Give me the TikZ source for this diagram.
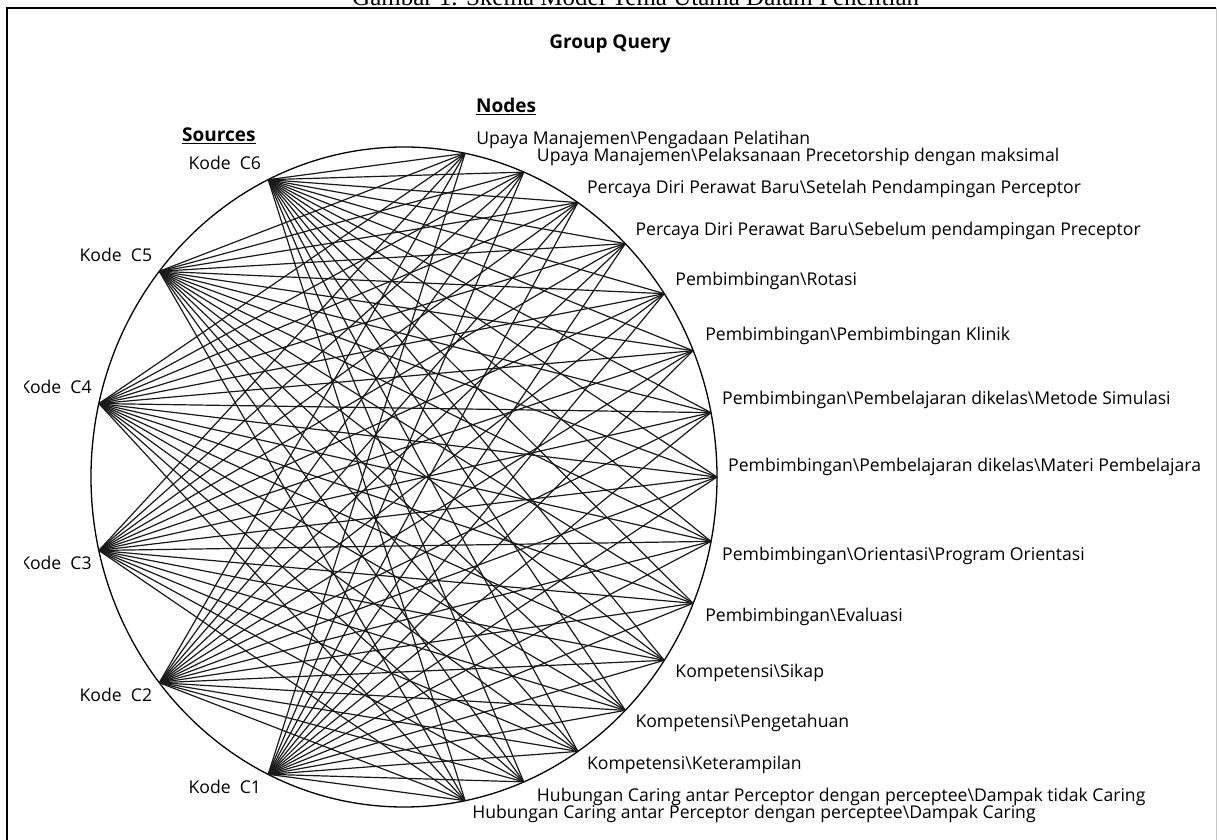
\documentclass[tikz,border=0pt]{standalone}
\usepackage{fontspec}
\setmainfont{Liberation Serif}
\setsansfont{Open Sans}
\usetikzlibrary{positioning}

\begin{document}
\begin{tikzpicture}[
    x=1pt, y=1pt,
    nodetext/.style={font=\sffamily\fontsize{17.6}{20}\selectfont, inner sep=0pt, text height=12.4pt, text depth=4.2pt},
    srctext/.style={font=\sffamily\fontsize{17.6}{20}\selectfont, inner sep=0pt, text height=12.4pt, text depth=4.2pt},
    head/.style={font=\sffamily\bfseries\fontsize{19}{22}\selectfont, inner sep=0pt},
    link/.style={line width=1.2pt, black!90},
    ring/.style={line width=1.3pt, black}
]
\useasboundingbox (0,0) rectangle (1220,839);

% Caption and frame
\node[anchor=base west, font=\fontsize{25}{28}\selectfont, inner sep=0pt] (caption) at (352,833) {Gambar 1. Skema Model Tema Utama Dalam Penelitian};
\draw[line width=1.5pt] (7,-10) -- (7,831) -- (1216,831);
\draw[gray!40] (1216,831) -- (1216,-10);

% Headings
\node[head, anchor=base] (query) at (610,790) {Group Query};
\node[head, anchor=base west] (nodeshead) at (476,726) {\underline{Nodes}};
\node[head, anchor=base west] (sourceshead) at (182,697) {\underline{Sources}};

% Ring
\draw[ring] (404,362) ellipse [x radius=313, y radius=330];

\begin{scope}[shift={(404,362)}]
% Sources
\coordinate (c6) at (115.71:313 and 330);
\coordinate (c5) at (141.43:313 and 330);
\coordinate (c4) at (167.14:313 and 330);
\coordinate (c3) at (192.86:313 and 330);
\coordinate (c2) at (218.57:313 and 330);
\coordinate (c1) at (244.29:313 and 330);
% Nodes
\coordinate (n1) at (78.75:313 and 330);
\coordinate (n2) at (67.5:313 and 330);
\coordinate (n3) at (56.25:313 and 330);
\coordinate (n4) at (45:313 and 330);
\coordinate (n5) at (33.75:313 and 330);
\coordinate (n6) at (22.5:313 and 330);
\coordinate (n7) at (11.25:313 and 330);
\coordinate (n8) at (0:313 and 330);
\coordinate (n9) at (-11.25:313 and 330);
\coordinate (n10) at (-22.5:313 and 330);
\coordinate (n11) at (-33.75:313 and 330);
\coordinate (n12) at (-45:313 and 330);
\coordinate (n13) at (-56.25:313 and 330);
\coordinate (n14) at (-67.5:313 and 330);
\coordinate (n15) at (-78.75:313 and 330);
\end{scope}

% Links
\path[link] (c6) edge (n1) edge (n2) edge (n3) edge (n4) edge (n5) edge (n6) edge (n7) edge (n8) edge (n9) edge (n10) edge (n11) edge (n12) edge (n13) edge (n14) edge (n15);
\path[link] (c5) edge (n1) edge (n2) edge (n3) edge (n4) edge (n5) edge (n6) edge (n7) edge (n8) edge (n9) edge (n10) edge (n11) edge (n12) edge (n13) edge (n14) edge (n15);
\path[link] (c4) edge (n1) edge (n2) edge (n3) edge (n4) edge (n5) edge (n6) edge (n7) edge (n8) edge (n9) edge (n10) edge (n11) edge (n12) edge (n13) edge (n14) edge (n15);
\path[link] (c3) edge (n1) edge (n2) edge (n3) edge (n4) edge (n5) edge (n6) edge (n7) edge (n8) edge (n9) edge (n10) edge (n11) edge (n12) edge (n13) edge (n14) edge (n15);
\path[link] (c2) edge (n1) edge (n2) edge (n3) edge (n4) edge (n5) edge (n6) edge (n7) edge (n8) edge (n9) edge (n10) edge (n11) edge (n12) edge (n13) edge (n14) edge (n15);
\path[link] (c1) edge (n1) edge (n2) edge (n3) edge (n4) edge (n5) edge (n6) edge (n7) edge (n8) edge (n9) edge (n10) edge (n11) edge (n12) edge (n13) edge (n14) edge (n15);

% Source labels
\begin{scope}
\clip (24,0) rectangle (1220,839);
\node[srctext, left=7pt of c6, yshift=14pt] (k6) {Kode~ C6};
\node[srctext, left=7pt of c5, yshift=14pt] (k5) {Kode~ C5};
\node[srctext, left=7pt of c4, yshift=14pt] (k4) {Kode~ C4};
\node[srctext, left=7pt of c3, yshift=-15pt] (k3) {Kode~ C3};
\node[srctext, left=7pt of c2, yshift=-15pt] (k2) {Kode~ C2};
\node[srctext, left=7pt of c1, yshift=-15pt] (k1) {Kode~ C1};
\end{scope}

% Node labels
\node[nodetext, right=11pt of n1, yshift=13pt] (t1) {Upaya Manajemen\textbackslash Pengadaan Pelatihan};
\node[nodetext, right=13pt of n2, yshift=15pt] (t2) {Upaya Manajemen\textbackslash Pelaksanaan Precetorship dengan maksimal};
\node[nodetext, right=9pt of n3, yshift=13pt] (t3) {Percaya Diri Perawat Baru\textbackslash Setelah Pendampingan Perceptor};
\node[nodetext, right=10pt of n4, yshift=12pt] (t4) {Percaya Diri Perawat Baru\textbackslash Sebelum pendampingan Preceptor};
\node[nodetext, right=11pt of n5, yshift=12pt] (t5) {Pembimbingan\textbackslash Rotasi};
\node[nodetext, right=12pt of n6, yshift=14pt] (t6) {Pembimbingan\textbackslash Pembimbingan Klinik};
\node[nodetext, right=11pt of n7, yshift=12pt] (t7) {Pembimbingan\textbackslash Pembelajaran dikelas\textbackslash Metode Simulasi};
\node[nodetext, right=11pt of n8, yshift=10pt] (t8) {Pembimbingan\textbackslash Pembelajaran dikelas\textbackslash Materi Pembelajara};
\node[nodetext, right=11pt of n9, yshift=-15pt] (t9) {Pembimbingan\textbackslash Orientasi\textbackslash Program Orientasi};
\node[nodetext, right=12pt of n10, yshift=-14pt] (t10) {Pembimbingan\textbackslash Evaluasi};
\node[nodetext, right=11pt of n11, yshift=-13pt] (t11) {Kompetensi\textbackslash Sikap};
\node[nodetext, right=10pt of n12, yshift=-13pt] (t12) {Kompetensi\textbackslash Pengetahuan};
\node[nodetext, right=9pt of n13, yshift=-14pt] (t13) {Kompetensi\textbackslash Keterampilan};
\node[nodetext, right=13pt of n14, yshift=-16pt] (t14) {Hubungan Caring antar Perceptor dengan perceptee\textbackslash Dampak tidak Caring};
\node[nodetext, right=7pt of n15, yshift=-14pt] (t15) {Hubungan Caring antar Perceptor dengan perceptee\textbackslash Dampak Caring};

\end{tikzpicture}
\end{document}
